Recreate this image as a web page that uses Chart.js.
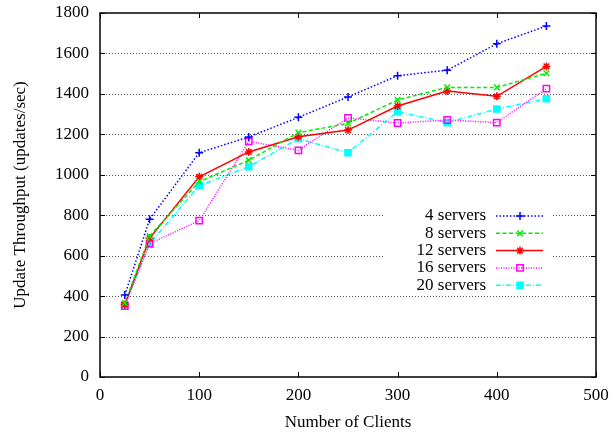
<!DOCTYPE html>
<html lang="en">
<head>
<meta charset="UTF-8">
<title>Update throughput</title>
<style>
    body { margin: 0; background: #fff; }
    canvas { display: block; }
</style>
</head>
<body>
<canvas id="chart" width="612" height="433"></canvas>
<script src="https://cdn.jsdelivr.net/npm/chart.js@4"></script>
<script>
// number of clients on the x axis
const clients = [25, 50, 100, 150, 200, 250, 300, 350, 400, 450];

// update throughput (updates/sec) per server count
const servers4  = [405, 780, 1109, 1187, 1284, 1385, 1490, 1517, 1648, 1736];
const servers8  = [365, 697, 966, 1072, 1208, 1254, 1370, 1432, 1432, 1502];
const servers12 = [358, 686, 990, 1113, 1188, 1221, 1340, 1414, 1388, 1536];
const servers16 = [351, 660, 773, 1165, 1121, 1281, 1256, 1271, 1258, 1426];
const servers20 = [356, 659, 946, 1040, 1178, 1109, 1312, 1258, 1325, 1376];

const seriesLabels = ['4 servers', '8 servers', '12 servers', '16 servers', '20 servers'];

const serif = "'Liberation Serif', 'DejaVu Serif', serif";
const fontSize = 17;

function points(vals) {
    return clients.map((c, i) => ({x: c, y: vals[i]}));
}

function series(label, vals, color, dash, style, radius, fill) {
    return {
        label: label,
        data: points(vals),
        borderColor: color,
        backgroundColor: fill ? color : 'rgba(0,0,0,0)',
        borderWidth: 1.5,
        borderDash: dash,
        pointStyle: style,
        pointRadius: radius,
        pointBorderColor: color,
        pointBackgroundColor: fill ? color : 'rgba(0,0,0,0)',
        pointBorderWidth: 1.5,
        tension: 0
    };
}

// drop the extra room chart.js reserves for the end labels
function noPad(scale) {
    scale.paddingTop = 0;
    scale.paddingBottom = 0;
    scale.paddingLeft = 0;
    scale.paddingRight = 0;
}

// gnuplot style frame: dotted grid, inward ticks on all sides, blank key box
const framePlugin = {
    id: 'frame',
    beforeDatasetsDraw(chart) {
        const {ctx, chartArea: a, scales: {x, y}} = chart;
        ctx.save();
        ctx.lineWidth = 1;
        ctx.strokeStyle = '#555';
        ctx.setLineDash([1, 2]);
        y.ticks.forEach(t => {
            if (t.value <= y.min || t.value >= y.max) return;
            const py = Math.round(y.getPixelForValue(t.value)) + 0.5;
            ctx.beginPath();
            ctx.moveTo(a.left, py);
            ctx.lineTo(a.right, py);
            ctx.stroke();
        });
        ctx.setLineDash([]);

        // clear grid behind the key
        ctx.fillStyle = '#fff';
        ctx.fillRect(a.right - 213, a.top + 188, 170, 93);

        ctx.strokeStyle = '#000';
        ctx.lineWidth = 1;
        const tl = 5;
        x.ticks.forEach(t => {
            const px = Math.round(x.getPixelForValue(t.value)) + 0.5;
            ctx.beginPath();
            ctx.moveTo(px, a.bottom); ctx.lineTo(px, a.bottom - tl);
            ctx.moveTo(px, a.top); ctx.lineTo(px, a.top + tl);
            ctx.stroke();
        });
        y.ticks.forEach(t => {
            const py = Math.round(y.getPixelForValue(t.value)) + 0.5;
            ctx.beginPath();
            ctx.moveTo(a.left, py); ctx.lineTo(a.left + tl, py);
            ctx.moveTo(a.right, py); ctx.lineTo(a.right - tl, py);
            ctx.stroke();
        });
        ctx.lineWidth = 1.5;
        ctx.strokeRect(a.left, a.top, a.right - a.left, a.bottom - a.top);
        ctx.restore();
    },
    afterDatasetsDraw(chart) {
        // key: right aligned labels with line sample and marker
        const {ctx, chartArea: a} = chart;
        ctx.save();
        ctx.font = fontSize + 'px ' + serif;
        ctx.textAlign = 'right';
        ctx.textBaseline = 'middle';
        chart.data.datasets.forEach((ds, i) => {
            const ly = a.top + 203 + i * 17.3;
            ctx.fillStyle = '#000';
            ctx.fillText(ds.label, a.right - 110, ly);
            ctx.strokeStyle = ds.borderColor;
            ctx.lineWidth = ds.borderWidth;
            ctx.setLineDash(ds.borderDash);
            ctx.beginPath();
            ctx.moveTo(a.right - 100, ly);
            ctx.lineTo(a.right - 53, ly);
            ctx.stroke();
            ctx.setLineDash([]);
            ctx.fillStyle = ds.pointBackgroundColor;
            Chart.helpers.drawPoint(ctx, {
                pointStyle: ds.pointStyle,
                radius: ds.pointRadius,
                rotation: 0,
                borderWidth: ds.pointBorderWidth
            }, a.right - 76, ly);
        });
        ctx.restore();
    }
};

new Chart(document.getElementById('chart'), {
    type: 'line',
    data: {
        datasets: [
            series(seriesLabels[0], servers4, '#0000ff', [1.5, 2], 'cross', 4, false),
            series(seriesLabels[1], servers8, '#00ee00', [4, 2.5], 'crossRot', 4, false),
            series(seriesLabels[2], servers12, '#ff0000', [], 'star', 4, false),
            series(seriesLabels[3], servers16, '#ff00ff', [1, 1.5], 'rect', 4.5, false),
            series(seriesLabels[4], servers20, '#00ffff', [5, 2, 1, 2], 'rect', 4.3, true)
        ]
    },
    options: {
        responsive: false,
        animation: false,
        devicePixelRatio: 1,
        layout: { padding: { left: 0, top: 13, right: 16, bottom: 0 } },
        plugins: { legend: { display: false }, tooltip: { enabled: false } },
        scales: {
            x: {
                type: 'linear',
                min: 0,
                max: 500,
                grid: { display: false, drawTicks: false },
                border: { display: false },
                ticks: { stepSize: 100, padding: 8, color: '#000', font: { family: serif, size: fontSize } },
                title: { display: true, text: 'Number of Clients', color: '#000', padding: { top: 0, bottom: 0 }, font: { family: serif, size: fontSize } },
                afterFit(scale) { scale.height = 56; noPad(scale); }
            },
            y: {
                min: 0,
                max: 1800,
                grid: { display: false, drawTicks: false },
                border: { display: false },
                ticks: {
                    stepSize: 200, padding: 11, color: '#000', font: { family: serif, size: fontSize },
                    callback: v => String(v)
                },
                title: { display: true, text: 'Update Throughput (updates/sec)', color: '#000', padding: { top: 10, bottom: 0 }, font: { family: serif, size: fontSize } },
                afterFit(scale) { scale.width = 100; noPad(scale); }
            }
        }
    },
    plugins: [framePlugin]
});
</script>
</body>
</html>
